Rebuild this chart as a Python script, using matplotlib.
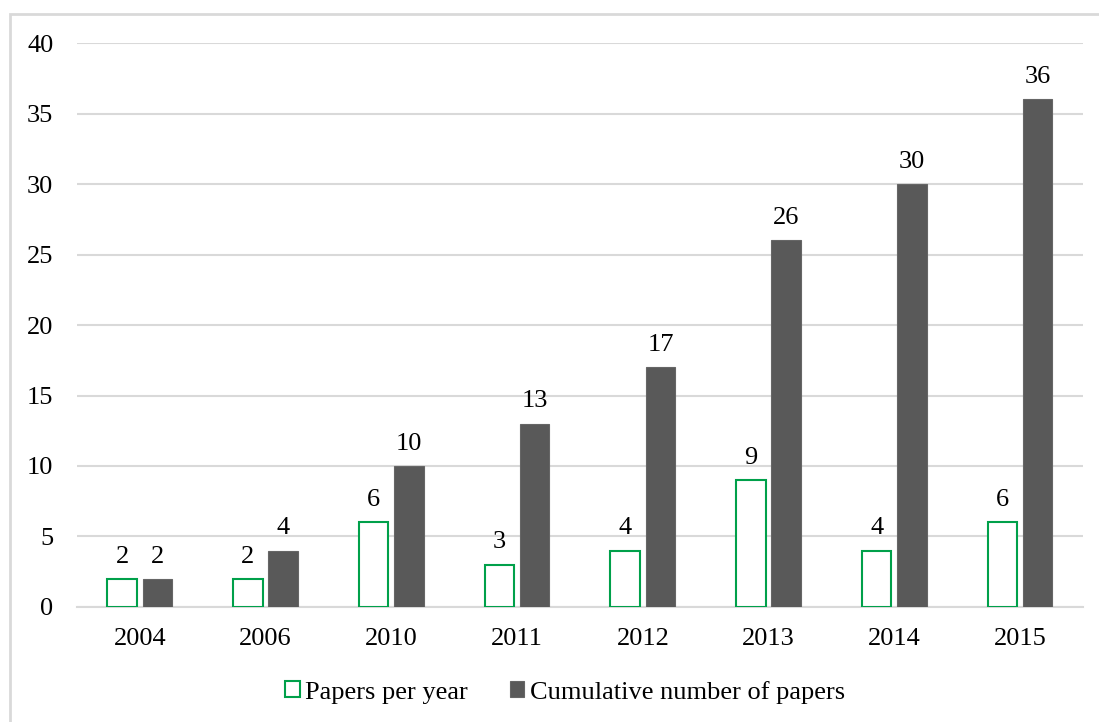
import numpy as np
import matplotlib.pyplot as plt
from matplotlib.patches import Rectangle

years = ['2004', '2006', '2010', '2011', '2012', '2013', '2014', '2015']
per_year = [2, 2, 6, 3, 4, 9, 4, 6]
cumulative = [2, 4, 10, 13, 17, 26, 30, 36]

plt.rcParams['font.family'] = ['Liberation Serif', 'DejaVu Serif']
fs = 19
plt.rcParams['font.size'] = fs

fig = plt.figure(figsize=(10.99, 7.22), dpi=100)
ax = fig.add_axes([0.070, 0.1593, 0.9154, 0.7811])

# light frame around the chart area
fig.patches.append(Rectangle((10 / 1099, -0.1), 1.2, 1 - 14 / 722 + 0.1,
                             transform=fig.transFigure, fill=False,
                             edgecolor='#d9d9d9', linewidth=2))

x = np.arange(len(years))
w = 0.235
off = 0.14
green = '#00a04a'
dark = '#595959'

ax.bar(x - off, per_year, w, facecolor='white', edgecolor=green,
       linewidth=1.5, label='Papers per year', zorder=3)
ax.bar(x + off, cumulative, w, facecolor=dark, edgecolor='#666666',
       linewidth=0.8, label='Cumulative number of papers', zorder=3)

for xi, v in zip(x - off, per_year):
    ax.text(xi, v + 0.8, str(v), ha='center', va='bottom', fontsize=fs)
for xi, v in zip(x + off, cumulative):
    ax.text(xi, v + 0.8, str(v), ha='center', va='bottom', fontsize=fs)

ax.set_xlim(-0.5, len(years) - 0.5)
ax.set_ylim(0, 40)
ax.set_yticks(range(0, 41, 5))
ax.set_xticks(x)
ax.set_xticklabels(years)
ax.yaxis.grid(True, color='#d9d9d9', linewidth=1.5, zorder=0)
ax.set_axisbelow(True)
for s in ['top', 'right', 'left']:
    ax.spines[s].set_visible(False)
ax.spines['bottom'].set_color('#d9d9d9')
ax.spines['bottom'].set_linewidth(1.5)
ax.tick_params(axis='both', length=0, labelsize=fs)
ax.tick_params(axis='y', pad=17)
ax.tick_params(axis='x', pad=15)

ax.legend(loc='center', bbox_to_anchor=(0.485, -0.151), ncol=2, frameon=False,
          fontsize=fs, handlelength=0.55, handleheight=0.55, handletextpad=0.2,
          columnspacing=1.6)

fig.savefig('out.png', dpi=100)
